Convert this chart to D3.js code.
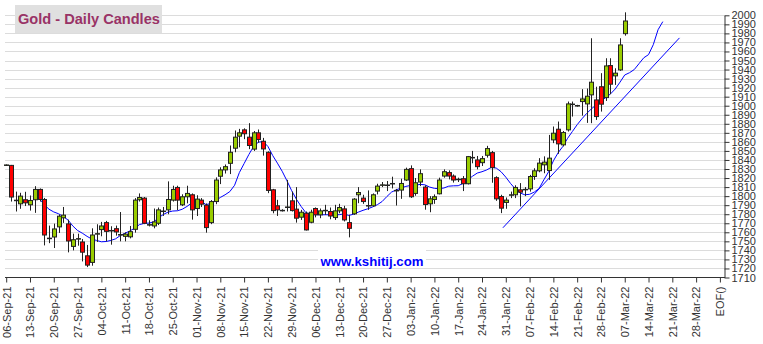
<!DOCTYPE html>
<html><head><meta charset="utf-8">
<script src="https://cdn.jsdelivr.net/npm/d3@7/dist/d3.min.js"></script>
<style>html,body{margin:0;padding:0;background:#fff;}svg{display:block;font-family:Arial,"Liberation Sans",sans-serif;}</style>
</head><body>
<svg id="chart" width="763" height="344"></svg>
<script>
// ---- DATA ----
const title = "Gold - Daily Candles";
const watermark = "www.kshitij.com";
const opens = [1834,1834,1795.5,1791.5,1796,1790.4,1796,1807.4,1796.3,1753.5,
 1754.8,1766,1776,1769.3,1744.4,1752.5,1749.3,1734,1726.7,1758,
 1763,1770.7,1761.5,1764,1757,1755.5,1755,1763.3,1796,1797.8,
 1768,1767,1770,1783,1784.8,1795.6,1809.6,1790.4,1799.3,1801.5,
 1786.3,1795.6,1790,1770.7,1794,1822,1829,1836.3,1853,1866.3,
 1873.3,1865.2,1852,1870,1860.7,1848.5,1807,1789.3,1784,1787.5,
 1794.8,1785.6,1776.7,1781.1,1771.1,1786.3,1779.3,1784,1783,1776.3,
 1783.7,1785.9,1770.7,1780.4,1801.5,1797.8,1789.3,1789.3,1805.6,1812,
 1812,1813.7,1806.3,1806.7,1817.8,1830.4,1803,1815.6,1810,1791.5,
 1796.3,1802.6,1822.2,1826,1822.2,1818.5,1819.3,1813.7,1842.6,1840,
 1837,1845.2,1848.1,1820.4,1799.6,1793,1801.2,1801.5,1807,1807.3,
 1808,1821.7,1828,1834.6,1828.3,1862.2,1874,1856.7,1873.3,1901.5,
 1900,1904.6,1902,1912,1906.4,1921,1909,1944.4,1933,1939.6,
 1979.7];
const highs = [1835,1834.5,1805,1803.7,1804.8,1800.7,1811,1808.5,1798,1767.4,
 1769.6,1779.6,1788,1774,1758.5,1758.5,1752.6,1746,1764.4,1768.9,
 1771.5,1772.6,1766.7,1767.4,1782.4,1760,1767,1797.8,1803,1799,
 1773.3,1786.3,1787.4,1788,1816.3,1811.5,1811.5,1802,1811.5,1803,
 1801,1797.8,1791.9,1795.6,1820.7,1831.9,1835,1856,1872.6,1874.4,
 1875,1880.7,1872,1873.7,1864.4,1849.6,1808,1795.9,1785.5,1818,
 1805,1810,1784.8,1783,1785,1787.5,1786.3,1790.4,1787.4,1790.4,
 1791.5,1789.3,1779.3,1797.8,1810,1801.5,1806.3,1803,1813.7,1815.6,
 1816.7,1821.5,1808,1819.3,1831.5,1834,1820,1829.6,1811.9,1800,
 1801.9,1820.4,1829.6,1828.5,1824,1820.4,1822.2,1844.4,1850,1844.4,
 1844.4,1855.6,1850,1822,1801.5,1798.5,1805,1812,1814.4,1810,
 1823.5,1830.8,1842,1844,1867.7,1877,1882.5,1872,1904.6,1904.6,
 1901,1918.3,1919,1974.6,1921,1936,1952.5,1952.5,1941.4,1974.6,
 2003.3];
const lows = [1833.5,1794,1783,1786,1789,1784,1781.5,1794,1745.5,1748,
 1742.6,1759.3,1770.4,1737.8,1740,1745.2,1727.8,1721.5,1723,1749.3,
 1755.6,1750,1746.3,1756.3,1750,1750,1753.3,1759.6,1794,1769,
 1766.5,1764.4,1768,1778.1,1780,1794,1784.4,1789,1792,1774,
 1778,1788,1759.6,1769,1791.1,1813.3,1825,1824.4,1848.5,1854,
 1863,1852,1850,1859,1844.8,1803.3,1781,1778.1,1783,1783,
 1783,1770.7,1773.7,1762,1770,1776.5,1775.6,1779.3,1774.4,1773.7,
 1781.1,1772,1754.4,1779.3,1792.2,1791.5,1784.8,1788.5,1801.9,1810,
 1805.6,1808.5,1789.6,1797,1816.7,1798,1800.4,1811.1,1785,1782.2,
 1791.5,1801.9,1820.4,1818.5,1815,1815.6,1805.6,1812.9,1836.3,1829.6,
 1833.3,1842.6,1814.8,1794.8,1781.2,1786,1797.8,1797.8,1788.6,1800,
 1805,1818,1826.4,1825.3,1818,1858.6,1846.8,1855,1871.4,1888,
 1899,1889,1881,1880.7,1884.3,1893.5,1905.3,1912.7,1923,1938.5,
 1977.5];
const closes = [1834.5,1799,1795,1800,1792.6,1795.2,1807.4,1796.3,1757,1753,
 1763.7,1777.8,1779,1750.4,1751.8,1753,1738,1723.7,1757,1758.5,
 1767,1761,1762,1760.4,1757.5,1758,1760.7,1795.6,1798.5,1770,
 1768.5,1771.5,1784.8,1783.5,1796.3,1807.4,1795.6,1799.3,1803,1784.8,
 1796.7,1791.1,1765.2,1794,1817.8,1829,1832.6,1848.5,1865.2,1870,
 1869,1856,1870,1862.6,1852.2,1806.3,1784,1784.8,1784.3,1788,
 1784,1775.6,1782.2,1762.6,1782.2,1779.3,1783.7,1784.3,1778,1783.7,
 1787.4,1773.7,1764.4,1796.7,1804,1794,1789.6,1801.5,1811.1,1812.5,
 1812.3,1814,1806,1814,1829.6,1799.3,1814.8,1824.8,1790.7,1797,
 1799.3,1817.8,1827,1822.2,1817.8,1818.7,1813.7,1843.7,1842.8,1832.6,
 1841.5,1852.6,1831.5,1797,1786.7,1795.6,1801.5,1809.6,1804.4,1807.5,
 1821.7,1828,1836.5,1837.6,1842,1869.6,1857.8,1870.3,1902,1901.8,
 1900.2,1907.5,1910.5,1926,1888,1901.7,1944,1923.8,1936,1967.2,
 1993.7];
// moving average line (blue), starting at bar index maStart
const maStart = 7;
const maValues = [1797,1790.5,1785.5,1782.5,1780.5,1777.5,1773.5,1767,1762,1759,
 1755.5,1752.5,1751,1749.5,1749.8,1751,1752.8,1756.5,1759,1761.5,
 1764.6,1768.5,1769.8,1770.2,1771.5,1776,1779.6,1782.3,1783.5,1783.8,
 1785.5,1788.6,1792.5,1794.7,1794.5,1790.5,1792,1795,1798.5,1801.5,
 1805,1812,1826,1836,1846,1855,1859.7,1860.4,1855,1845,
 1836.5,1827.5,1817,1806,1796.5,1788.5,1781.5,1780.2,1779.5,1779.4,
 1779.4,1779.4,1779.4,1779.5,1780.4,1778.6,1780,1782.3,1784.3,1786,
 1788,1790.5,1794,1799.5,1804.5,1807,1809,1810.8,1811.8,1812,
 1813,1812.5,1810,1808.6,1808.2,1809,1811,1811.4,1811.5,1814,
 1818,1822,1825.5,1827,1829,1832,1831,1827,1821,1814,
 1808,1803.5,1801.5,1802,1804.5,1808.5,1818,1827,1839,1848,
 1855,1864,1871.5,1879,1885.5,1891.5,1896.5,1901,1905,1909,
 1913,1918.5,1926,1934,1936.5,1940,1946.5,1953,1956.5,1967.5,
 1984,1993];
// rising trendline endpoints (bar index, price)
const trendIdx = [104.4, 141.5];
const trendVal = [1765, 1975];
// weekly tick labels (every 5 bars)
const xLabels = ["06-Sep-21","13-Sep-21","20-Sep-21","27-Sep-21","04-Oct-21","11-Oct-21","18-Oct-21","25-Oct-21",
 "01-Nov-21","08-Nov-21","15-Nov-21","22-Nov-21","29-Nov-21","06-Dec-21","13-Dec-21","20-Dec-21","27-Dec-21",
 "03-Jan-22","10-Jan-22","17-Jan-22","24-Jan-22","31-Jan-22","07-Feb-22","14-Feb-22","21-Feb-22","28-Feb-22",
 "07-Mar-22","14-Mar-22","21-Mar-22","28-Mar-22","EOF()"];
const yTicks = d3.range(1710, 2001, 10);

// ---- DRAW ----
const svg = d3.select("#chart");
const x = d3.scaleLinear().domain([0, 150]).range([6.2, 6.2 + 150 * 4.758]);
const y = d3.scaleLinear().domain([1710, 2000]).range([277.5, 15.3]);
const axisX = 724, plotLeft = 5;

// gridlines
svg.append("g").selectAll("line").data(yTicks.filter(v => v > 1710)).join("line")
  .attr("x1", plotLeft).attr("x2", axisX)
  .attr("y1", d => Math.round(y(d)) + 0.5).attr("y2", d => Math.round(y(d)) + 0.5)
  .attr("stroke", "#dcdcdc").attr("stroke-width", 1);

// title
svg.append("rect").attr("x", 15).attr("y", 5).attr("width", 147).attr("height", 28).attr("fill", "#e0e0e0");
svg.append("text").attr("x", 18).attr("y", 24).attr("fill", "#993366")
  .attr("font-size", "14.6px").attr("font-weight", "bold").text(title);

// watermark
svg.append("rect").attr("x", 318).attr("y", 247).attr("width", 108).attr("height", 19).attr("fill", "#fff");
svg.append("text").attr("x", 372).attr("y", 266).attr("text-anchor", "middle").attr("fill", "#0000ff")
  .attr("font-size", "13.2px").attr("font-weight", "bold").text(watermark);

// axes
const yAxis = d3.axisRight(y).tickValues(yTicks).tickSize(5).tickSizeOuter(0).tickFormat(d3.format("d"));
const gy = svg.append("g").attr("transform", `translate(${axisX + 0.5},0)`).call(yAxis);
gy.select(".domain").attr("stroke", "#333");
gy.selectAll(".tick line").attr("stroke", "#333");
gy.selectAll(".tick text").attr("fill", "#333").attr("font-size", "11px").attr("font-family", "Arial,'Liberation Sans',sans-serif").attr("x", 7);

const xAxis = d3.axisBottom(x).tickValues(d3.range(0, 151, 5)).tickSize(5).tickSizeOuter(0)
  .tickFormat((d, i) => xLabels[i]);
const gx = svg.append("g").attr("transform", `translate(0,${277.5})`).call(xAxis);
gx.select(".domain").remove();
gx.selectAll(".tick line").attr("stroke", "#333");
gx.selectAll(".tick text").attr("fill", "#333").attr("font-size", "11px")
  .attr("font-family", "Arial,'Liberation Sans',sans-serif")
  .attr("transform", "rotate(-90)").attr("x", -9).attr("y", 0).attr("dy", "0.35em")
  .style("text-anchor", "end");
svg.append("line").attr("x1", plotLeft).attr("x2", axisX + 1).attr("y1", 277.5).attr("y2", 277.5)
  .attr("stroke", "#333").attr("stroke-width", 1);

// moving average & trendline
const line = d3.line().x(d => x(d[0])).y(d => y(d[1]));
svg.append("path").datum(maValues.map((v, k) => [maStart + k, v])).attr("d", line)
  .attr("fill", "none").attr("stroke", "#0000ff").attr("stroke-width", 1);
svg.append("path").datum(trendIdx.map((v, k) => [v, trendVal[k]])).attr("d", line)
  .attr("fill", "none").attr("stroke", "#0000ff").attr("stroke-width", 1);

// candles
const bars = opens.map((o, i) => ({ i, o, h: highs[i], l: lows[i], c: closes[i] }));
const cg = svg.append("g");
const px = i => Math.round(x(i)) + 0.5;
cg.selectAll("line").data(bars).join("line")
  .attr("x1", d => px(d.i)).attr("x2", d => px(d.i))
  .attr("y1", d => y(d.h)).attr("y2", d => y(d.l))
  .attr("stroke", "#222").attr("stroke-width", 1);
cg.selectAll("rect").data(bars).join("rect")
  .attr("x", d => px(d.i) - 2).attr("width", 4)
  .attr("y", d => y(Math.max(d.o, d.c)))
  .attr("height", d => Math.max(0.5, y(Math.min(d.o, d.c)) - y(Math.max(d.o, d.c))))
  .attr("fill", d => d.c >= d.o ? "#99cc00" : "#ff0000")
  .attr("stroke", "#222").attr("stroke-width", 1);
</script>
</body></html>
